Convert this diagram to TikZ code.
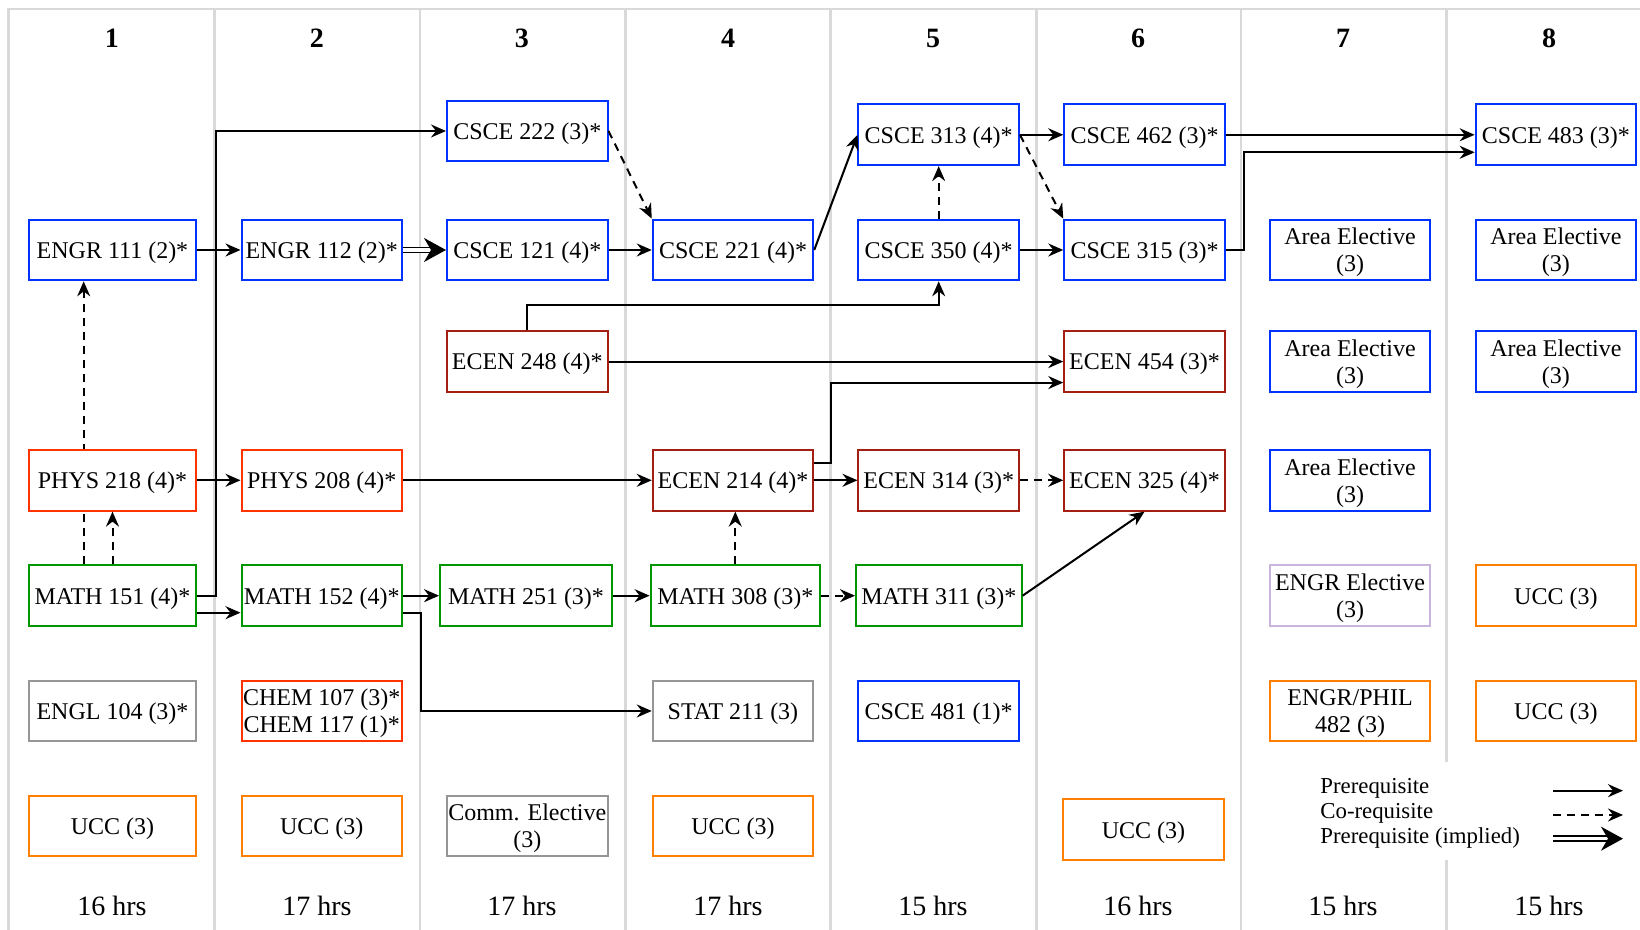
\documentclass[tikz,border=0pt]{standalone}
\usepackage{fontspec}
\setmainfont{Liberation Serif}
\usetikzlibrary{arrows.meta,backgrounds}
\definecolor{csblue}{RGB}{0,51,255}
\definecolor{ecred}{RGB}{165,30,20}
\definecolor{phred}{RGB}{255,51,0}
\definecolor{mgreen}{RGB}{0,150,0}
\definecolor{engray}{RGB}{150,150,150}
\definecolor{uccorange}{RGB}{255,128,0}
\definecolor{lilac}{RGB}{200,180,220}
\definecolor{linegray}{RGB}{217,217,217}

\begin{document}
\begin{tikzpicture}[x=50pt,y=50pt,
  course/.style={draw, line width=1pt, fill=white, minimum width=80.25pt,
    minimum height=30.35pt, inner sep=0.5pt, align=center, text depth=0pt,
    font=\fontsize{12}{13.6}\selectfont},
  wide/.style={minimum width=83.5pt},
  colline/.style={draw=linegray, line width=1.3pt},
  prereq/.style={line width=1pt, -{Stealth[length=7.5pt,width=6.5pt,inset=2.5pt]}},
  coreq/.style={prereq, dash pattern=on 4pt off 3pt},
  implied/.style={double, double distance=1.6pt, line width=0.9pt,
    -{Stealth[length=11pt,width=12pt,inset=3.5pt]}},
  term/.style={font=\bfseries\fontsize{14}{16}\selectfont},
  hrs/.style={font=\fontsize{14}{16}\selectfont},
  keytext/.style={anchor=base west, inner sep=0pt, font=\fontsize{11.4}{12.5}\selectfont}]
  \useasboundingbox (0,0) rectangle (16.40,9.30);
  \begin{scope}[on background layer]
    \draw[colline] (0.087,0) -- (0.087,9.208) -- (16.40,9.208);
    \draw[colline] (2.147,0) -- (2.147,9.208);
    \draw[colline] (4.200,0) -- (4.200,9.208);
    \draw[colline] (6.253,0) -- (6.253,9.208);
    \draw[colline] (8.306,0) -- (8.306,9.208);
    \draw[colline] (10.367,0) -- (10.367,9.208);
    \draw[colline] (12.41,0) -- (12.41,9.208);
    \draw[colline] (14.467,0) -- (14.467,9.208);
  \end{scope}

  \node[term] (col1) at (1.119,8.92) {1};
  \node[term] (col2) at (3.169,8.92) {2};
  \node[term] (col3) at (5.219,8.92) {3};
  \node[term] (col4) at (7.28,8.92) {4};
  \node[term] (col5) at (9.33,8.92) {5};
  \node[term] (col6) at (11.38,8.92) {6};
  \node[term] (col7) at (13.43,8.92) {7};
  \node[term] (col8) at (15.49,8.92) {8};

  \node[course, wide, draw=csblue] (engr111) at (1.125,6.80) {ENGR 111 (2)*};
  \node[course, wide, draw=phred] (phys218) at (1.125,4.497) {PHYS 218 (4)*};
  \node[course, wide, draw=mgreen] (math151) at (1.125,3.343) {MATH 151 (4)*};
  \node[course, wide, draw=engray] (engl104) at (1.125,2.19) {ENGL 104 (3)*};
  \node[course, wide, draw=uccorange] (ucca) at (1.125,1.04) {UCC (3)};

  \node[course, draw=csblue] (engr112) at (3.2175,6.80) {ENGR 112 (2)*};
  \node[course, draw=phred] (phys208) at (3.2175,4.497) {PHYS 208 (4)*};
  \node[course, draw=mgreen] (math152) at (3.2175,3.343) {MATH 152 (4)*};
  \node[course, draw=phred] (chem107) at (3.2175,2.19) {CHEM 107 (3)*\\CHEM 117 (1)*};
  \node[course, draw=uccorange] (uccb) at (3.2175,1.04) {UCC (3)};

  \node[course, draw=csblue] (csce222) at (5.2725,7.99) {CSCE 222 (3)*};
  \node[course, draw=csblue] (csce121) at (5.2725,6.80) {CSCE 121 (4)*};
  \node[course, draw=ecred] (ecen248) at (5.2725,5.684) {ECEN 248 (4)*};
  \node[course, draw=mgreen, minimum width=86pt] (math251) at (5.26,3.343) {MATH 251 (3)*};
  \node[course, draw=engray] (comm) at (5.2725,1.04) {Comm. Elective\\(3)};

  \node[course, draw=csblue] (csce221) at (7.33,6.80) {CSCE 221 (4)*};
  \node[course, draw=ecred] (ecen214) at (7.33,4.497) {ECEN 214 (4)*};
  \node[course, draw=mgreen, minimum width=84.7pt] (math308) at (7.353,3.343) {MATH 308 (3)*};
  \node[course, draw=engray] (stat211) at (7.33,2.19) {STAT 211 (3)};
  \node[course, draw=uccorange] (uccc) at (7.33,1.04) {UCC (3)};

  \node[course, draw=csblue] (csce313) at (9.387,7.952) {CSCE 313 (4)*};
  \node[course, draw=csblue] (csce350) at (9.387,6.80) {CSCE 350 (4)*};
  \node[course, draw=ecred] (ecen314) at (9.387,4.497) {ECEN 314 (3)*};
  \node[course, draw=mgreen, minimum width=82.8pt] (math311) at (9.388,3.343) {MATH 311 (3)*};
  \node[course, draw=csblue] (csce481) at (9.387,2.19) {CSCE 481 (1)*};

  \node[course, draw=csblue] (csce462) at (11.445,7.952) {CSCE 462 (3)*};
  \node[course, draw=csblue] (csce315) at (11.445,6.80) {CSCE 315 (3)*};
  \node[course, draw=ecred] (ecen454) at (11.445,5.684) {ECEN 454 (3)*};
  \node[course, draw=ecred] (ecen325) at (11.445,4.497) {ECEN 325 (4)*};
  \node[course, draw=uccorange] (uccd) at (11.435,1.003) {UCC (3)};

  \node[course, draw=csblue] (areaa) at (13.50,6.80) {Area Elective\\(3)};
  \node[course, draw=csblue] (areab) at (13.50,5.684) {Area Elective\\(3)};
  \node[course, draw=csblue] (areac) at (13.50,4.497) {Area Elective\\(3)};
  \node[course, draw=lilac] (engrel) at (13.50,3.343) {ENGR Elective\\(3)};
  \node[course, draw=uccorange] (engrphil) at (13.50,2.19) {ENGR/PHIL\\482 (3)};

  \node[course, draw=csblue] (csce483) at (15.559,7.952) {CSCE 483 (3)*};
  \node[course, draw=csblue] (aread) at (15.559,6.80) {Area Elective\\(3)};
  \node[course, draw=csblue] (areae) at (15.559,5.684) {Area Elective\\(3)};
  \node[course, draw=uccorange] (ucce) at (15.559,3.343) {UCC (3)};
  \node[course, draw=uccorange] (uccf) at (15.559,2.19) {UCC (3)};

  \node[hrs] (hrs1) at (1.119,0.245) {16 hrs};
  \node[hrs] (hrs2) at (3.169,0.245) {17 hrs};
  \node[hrs] (hrs3) at (5.219,0.245) {17 hrs};
  \node[hrs] (hrs4) at (7.28,0.245) {17 hrs};
  \node[hrs] (hrs5) at (9.33,0.245) {15 hrs};
  \node[hrs] (hrs6) at (11.38,0.245) {16 hrs};
  \node[hrs] (hrs7) at (13.43,0.245) {15 hrs};
  \node[hrs] (hrs8) at (15.49,0.245) {15 hrs};

  \begin{scope}[on background layer]
    \draw[coreq] ([xshift=-14.4pt]math151.north) -- ([xshift=-14.4pt]engr111.south);
  \end{scope}
  \draw[coreq] (math151.north) -- (phys218.south);
  \draw[prereq] (engr111) -- (engr112);
  \draw[implied] (engr112) -- (csce121);
  \draw[prereq] (csce121) -- (csce221);
  \draw[coreq] (csce222.east) -- (csce221.north west);
  \draw[prereq] (csce221.east) -- (csce313.west);
  \draw[coreq] (csce350) -- (csce313);
  \draw[prereq] (csce313) -- (csce462);
  \draw[coreq] (csce313.east) -- (csce315.north west);
  \draw[prereq] (csce350) -- (csce315);
  \draw[prereq] (csce462) -- (csce483);
  \draw[prereq] (csce315.east) -- ++(0.186,0) |- ([yshift=-8.75pt]csce483.west);
  \draw[prereq] (ecen248.north) -- ++(0,0.2525) -| (csce350.south);
  \draw[prereq] (ecen248) -- (ecen454);
  \draw[prereq] ([yshift=8.5pt]ecen214.east) -- ++(0.165,0) |- ([yshift=-10.5pt]ecen454.west);
  \draw[prereq] (phys218) -- (phys208);
  \draw[prereq] (phys208) -- (ecen214);
  \draw[prereq] (ecen214) -- (ecen314);
  \draw[coreq] (ecen314) -- (ecen325);
  \draw[prereq] (math151.east) -- ++(0.185,0) |- (csce222.west);
  \draw[prereq] ([yshift=-8.5pt]math151.east) -- ([yshift=-8.5pt]math152.west);
  \draw[prereq] (math152) -- (math251);
  \draw[prereq] ([yshift=-8.5pt]math152.east) -- ++(0.184,0) |- (stat211.west);
  \draw[prereq] (math251) -- (math308);
  \draw[coreq] (math308.north) -- (math308.north |- ecen214.south);
  \draw[coreq] (math308) -- (math311);
  \draw[prereq] (math311.east) -- (ecen325.south);

  \node[fill=white, minimum width=175pt, minimum height=49pt, inner sep=0pt] (legend) at (14.65,1.19) {};
  \node[keytext] (keypre) at (13.20,1.36) {Prerequisite};
  \node[keytext] (keyco) at (13.20,1.117) {Co-requisite};
  \node[keytext] (keyimp) at (13.20,0.86) {Prerequisite (implied)};
  \coordinate (keya) at (15.53,1.393);
  \coordinate (keyaend) at (16.23,1.393);
  \coordinate (keyb) at (15.53,1.15);
  \coordinate (keybend) at (16.23,1.15);
  \coordinate (keyc) at (15.53,0.913);
  \coordinate (keycend) at (16.23,0.913);
  \draw[prereq] (keya) -- (keyaend);
  \draw[coreq] (keyb) -- (keybend);
  \draw[implied] (keyc) -- (keycend);
\end{tikzpicture}
\end{document}
